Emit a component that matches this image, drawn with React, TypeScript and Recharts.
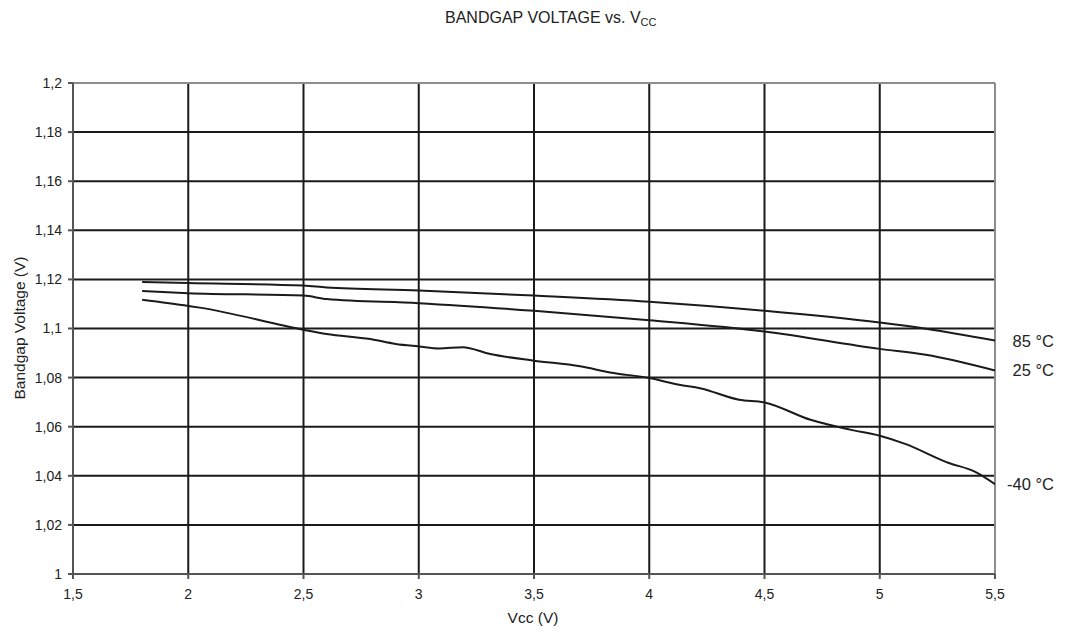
import React from 'react';
import { LineChart, Line, XAxis, YAxis, ReferenceLine } from 'recharts';

const xTicks = [1.5, 2, 2.5, 3, 3.5, 4, 4.5, 5, 5.5];
const yTicks = [1, 1.02, 1.04, 1.06, 1.08, 1.1, 1.12, 1.14, 1.16, 1.18, 1.2];
const xGrid = [2, 2.5, 3, 3.5, 4, 4.5, 5];
const yGrid = [1.02, 1.04, 1.06, 1.08, 1.1, 1.12, 1.14, 1.16, 1.18];

const vcc85 = [1.8, 2.0, 2.5, 2.6, 3.0, 3.5, 4.0, 4.5, 5.0, 5.2, 5.5];
const bg85 = [1.1189, 1.1185, 1.1175, 1.1167, 1.1155, 1.1134, 1.1109, 1.1072, 1.1024, 1.0999, 1.0951];

const vcc25 = [1.8, 2.0, 2.5, 2.6, 3.0, 3.5, 4.0, 4.5, 5.0, 5.2, 5.5];
const bg25 = [1.1153, 1.1144, 1.1134, 1.112, 1.1103, 1.1072, 1.1034, 1.0988, 1.0917, 1.0893, 1.0829];

const vccM40 = [1.8, 2.0, 2.05, 2.5, 2.6, 2.79, 2.9, 3.0, 3.09, 3.19, 3.31, 3.5, 3.7, 3.83, 4.0, 4.13, 4.22, 4.39, 4.5, 4.7, 4.87, 5.0, 5.11, 5.3, 5.41, 5.5];
const bgM40 = [1.1117, 1.1092, 1.1085, 1.0995, 1.0978, 1.0957, 1.0937, 1.0927, 1.0919, 1.0924, 1.0896, 1.0869, 1.0846, 1.0821, 1.0798, 1.0771, 1.0757, 1.071, 1.0699, 1.0628, 1.0588, 1.0563, 1.053, 1.0452, 1.0418, 1.0366];

const seriesNames = ['85 °C', '25 °C', '-40 °C'];

const toData = (xs: number[], ys: number[]) => xs.map((x, i) => ({ x, y: ys[i] }));

const FONT = '"Liberation Sans", Arial, sans-serif';
const comma = (v: number) => String(v).replace('.', ',');

const makeLabel = (name: string, lastIndex: number) => (props: any) => {
  if (props.index !== lastIndex) return null;
  return (
    <text
      x={props.x + 59}
      y={props.y}
      textAnchor="end"
      dominantBaseline="central"
      fontSize={16.5}
      fontFamily={FONT}
      fill="#222"
    >
      {name}
    </text>
  );
};

export default function App() {
  const d85 = toData(vcc85, bg85);
  const d25 = toData(vcc25, bg25);
  const dM40 = toData(vccM40, bgM40);
  return (
    <div style={{ position: 'absolute', left: 0, top: 0, width: 1072, height: 632, background: '#fff', fontFamily: FONT }}>
      <LineChart width={1072} height={632} margin={{ top: 83, right: 77, bottom: 28, left: 33 }}>
        <XAxis
          type="number"
          dataKey="x"
          domain={[1.5, 5.5]}
          ticks={xTicks}
          interval={0}
          tickFormatter={comma}
          height={30}
          stroke="#555"
          strokeWidth={2}
          tickSize={5}
          tickMargin={10}
          tick={{ fill: '#222', fontSize: 14, fontFamily: FONT }}
          allowDataOverflow
        />
        <YAxis
          type="number"
          dataKey="y"
          domain={[1, 1.2]}
          ticks={yTicks}
          interval={0}
          tickFormatter={comma}
          width={40}
          stroke="#555"
          strokeWidth={2}
          tickSize={5}
          tickMargin={6}
          tick={{ fill: '#222', fontSize: 14, fontFamily: FONT }}
          allowDataOverflow
        />
        {yGrid.map((v) => (
          <ReferenceLine key={'h' + v} y={v} stroke="#1a1a1a" strokeWidth={2} />
        ))}
        {xGrid.map((v) => (
          <ReferenceLine key={'v' + v} x={v} stroke="#1a1a1a" strokeWidth={2} />
        ))}
        <ReferenceLine y={1.2} stroke="#8c8c8c" strokeWidth={2} />
        <ReferenceLine x={5.5} stroke="#8c8c8c" strokeWidth={2} />
        <Line data={d85} dataKey="y" type="monotone" stroke="#1a1a1a" strokeWidth={2} dot={false} isAnimationActive={false} label={makeLabel(seriesNames[0], d85.length - 1)} />
        <Line data={d25} dataKey="y" type="monotone" stroke="#1a1a1a" strokeWidth={2} dot={false} isAnimationActive={false} label={makeLabel(seriesNames[1], d25.length - 1)} />
        <Line data={dM40} dataKey="y" type="monotone" stroke="#1a1a1a" strokeWidth={2} dot={false} isAnimationActive={false} label={makeLabel(seriesNames[2], dM40.length - 1)} />
      </LineChart>
      <svg width={1072} height={632} style={{ position: 'absolute', left: 0, top: 0, pointerEvents: 'none' }}>
        <text x={445} y={23} fontSize={16} fontFamily={FONT} fill="#222">
          BANDGAP VOLTAGE vs. V<tspan fontSize={11} dy={3}>CC</tspan>
        </text>
        <text x={533} y={623} textAnchor="middle" fontSize={15.5} fontFamily={FONT} fill="#222">
          Vcc (V)
        </text>
        <text x={25} y={328} textAnchor="middle" fontSize={15.5} fontFamily={FONT} fill="#222" transform="rotate(-90 25 328)">
          Bandgap Voltage (V)
        </text>
      </svg>
    </div>
  );
}
